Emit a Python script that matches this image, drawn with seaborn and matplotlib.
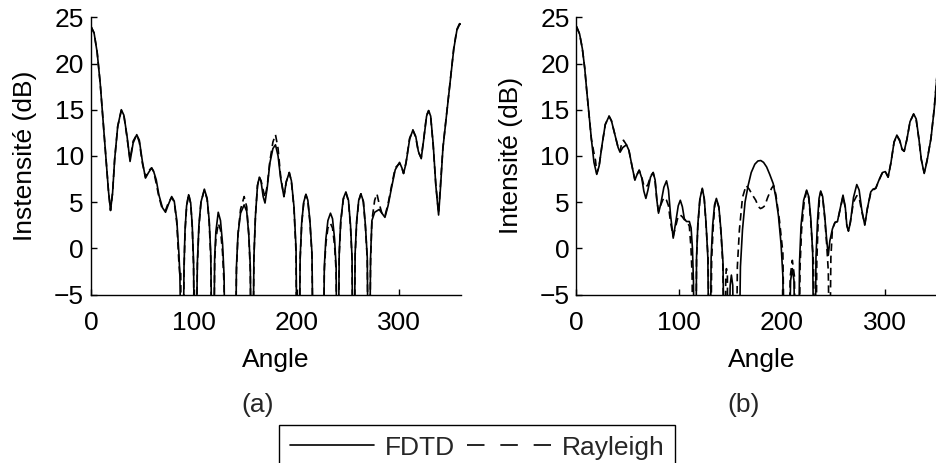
import matplotlib
matplotlib.use('Agg')
import matplotlib.pyplot as plt
from matplotlib.lines import Line2D
import seaborn as sns

# panel (a) - FDTD
a_fdtd_angle = [0, 3, 6, 9, 12, 15, 17, 19, 21, 23, 26, 29.5, 32, 35, 38, 41, 44.5, 47, 50, 53,
                56, 59, 61, 63.5, 66, 69.5, 72.5, 75.5, 78.5, 81, 83.5, 85.5, 86.5, 88,
                89.5, 90.5, 91.5, 93, 95, 97, 98.5, 99.8, 100.8,
                102, 103.5, 105, 107, 110.3, 113, 115, 116.5, 118,
                119.3, 120.3, 121.5, 123.8, 126, 128, 129.5, 130.5,
                140.5, 141.5, 143, 145.5, 149, 151.5, 153.5, 155, 156,
                157.5, 158.5, 160, 162, 163.8, 165.5, 167.5, 169.3, 171.5, 174, 177, 179.5, 182,
                184.5, 187.7, 190, 192.9, 195, 197.5, 199.5, 200.5,
                202.5, 203.5, 205, 207, 209.1, 211, 213, 215, 216.3,
                226, 227, 228.5, 230.5, 233, 235, 237, 238.5, 239.3,
                240.5, 241.5, 243, 245.5, 248, 250.5, 252.5, 254, 254.8,
                256, 257, 258.5, 260.5, 262.6, 265, 267, 268.8, 269.8,
                271, 272, 273.3, 276, 280.4, 283, 286, 289, 292.5, 296, 300.2, 302.5, 304.1,
                306.5, 310, 313.2, 316, 318.5, 321.3, 324, 326.5, 328.5, 330.5, 333, 335.5,
                338.2, 340, 342.4, 345.5, 349.5, 353, 356, 358.5, 360]
a_fdtd_db = [24.0, 23.3, 21.2, 17.8, 13.4, 9.0, 6.2, 4.1, 6.0, 9.6, 13.2, 15.0, 14.4, 12.2, 9.4, 11.4, 12.3, 11.7, 9.4, 7.6,
             8.2, 8.7, 8.3, 7.4, 5.8, 4.4, 3.9, 4.8, 5.6, 5.1, 3.0, -0.5, -3.0, -14,
             -14, -2.0, 2.0, 4.6, 5.8, 4.9, 2.5, -1.5, -14,
             -14, -1.5, 2.5, 5.0, 6.4, 5.4, 3.0, -0.5, -14,
             -14, -1.0, 1.8, 3.9, 3.0, 0.5, -3.0, -14,
             -14, -2.0, 1.5, 3.8, 4.7, 4.0, 1.5, -2.0, -14,
             -14, -1.0, 3.5, 6.8, 7.7, 7.2, 5.6, 4.9, 6.6, 9.2, 10.8, 11.2, 10.0,
             7.6, 5.6, 7.2, 8.2, 7.3, 4.5, 0.0, -14,
             -14, -1.0, 2.8, 5.0, 5.85, 5.2, 3.0, -0.5, -14,
             -14, -2.0, 1.0, 3.0, 3.8, 3.2, 1.0, -2.0, -14,
             -14, -0.5, 3.0, 5.4, 6.1, 5.2, 2.5, -1.0, -14,
             -14, -0.5, 3.0, 5.2, 5.9, 5.1, 2.5, -1.0, -14,
             -14, -1.0, 3.0, 3.9, 4.2, 3.8, 3.35, 4.6, 6.6, 8.5, 9.3, 8.7, 8.1,
             9.2, 11.8, 12.8, 12.1, 10.5, 9.7, 12.0, 14.3, 14.9, 14.3, 11.2, 6.8,
             3.6, 6.5, 10.8, 14.0, 18.0, 21.6, 23.6, 24.2, 24.3]

# panel (a) - Rayleigh
a_ray_angle = [0, 3, 6, 9, 12, 15, 17, 19, 21, 23, 26, 29.5, 32, 35, 38, 41, 44.5, 47, 50, 53,
               56, 59, 61, 63.5, 66, 69.5, 72.5, 75.5, 78.5, 81, 83.5, 85.5, 86.5, 87.3, 88,
               89.5, 90.5, 91.5, 93, 95, 97, 98.5, 99.8, 100.6,
               102.2, 103.5, 105, 107, 110.3, 113, 115, 116.5, 117.8,
               119.3, 120.3, 121.5, 123.8, 126, 128, 129.5, 130.3,
               140.5, 141.5, 143, 145.5, 149, 151.5, 153.5, 155, 155.8,
               157.5, 158.5, 160, 162, 163.8, 165.5, 167.5, 169.3, 171.5, 174, 177, 179.5, 182,
               184.5, 187.7, 190, 192.9, 195, 197.5, 199.5, 200.3,
               202.5, 203.5, 205, 207, 209.1, 211, 213, 215, 216.3,
               226, 227, 228.5, 230.5, 233, 235, 237, 238.5, 239.3,
               240.5, 241.5, 243, 245.5, 248, 250.5, 252.5, 254, 254.8,
               256, 257, 258.5, 260.5, 262.6, 265, 267, 268.8, 269.8,
               271, 272, 273.3, 276, 278.2, 280, 283, 286, 289, 292.5, 296, 300.2, 302.5, 304.1,
               306.5, 310, 313.2, 316, 318.5, 321.3, 324, 326.5, 328.5, 330.5, 333, 335.5,
               338.2, 340, 342.4, 345.5, 349.5, 353, 356, 358.5, 360]
a_ray_db = [24.0, 23.3, 21.2, 17.8, 13.4, 9.0, 6.2, 4.1, 6.0, 9.6, 13.2, 14.9, 14.4, 12.0, 9.6, 11.6, 12.3, 11.5, 9.2, 7.7,
            8.4, 8.7, 8.3, 7.0, 5.6, 4.2, 4.1, 5.0, 5.5, 5.0, 2.7, -1.5, -2.9, -2.6, -14,
            -14, -2.5, 1.8, 4.5, 5.9, 4.8, 2.3, -2.0, -14,
            -14, -1.8, 2.3, 5.0, 6.3, 5.3, 2.8, -1.0, -14,
            -14, -1.5, 1.0, 2.7, 2.0, -0.5, -4.0, -14,
            -14, -2.5, 1.5, 4.2, 5.6, 4.5, 1.5, -2.5, -14,
            -14, -1.0, 3.5, 6.8, 7.7, 7.3, 6.3, 5.5, 6.8, 9.4, 11.5, 12.3, 10.8,
            7.8, 5.6, 7.2, 8.2, 7.2, 4.3, -0.5, -14,
            -14, -1.2, 2.6, 5.0, 5.8, 5.1, 2.8, -0.8, -14,
            -14, -2.5, 0.5, 2.2, 2.7, 2.2, 0.3, -2.5, -14,
            -14, -0.8, 2.8, 5.3, 6.0, 5.1, 2.3, -1.2, -14,
            -14, -0.8, 2.8, 5.1, 5.9, 5.0, 2.3, -1.2, -14,
            -14, -1.5, 3.0, 5.2, 5.9, 5.0, 3.8, 3.5, 4.8, 6.8, 8.7, 9.2, 8.7, 8.1,
            9.3, 11.9, 12.8, 12.0, 10.4, 9.8, 12.1, 14.4, 14.9, 14.2, 11.0, 6.9,
            3.8, 6.8, 10.9, 14.0, 18.1, 21.7, 23.7, 24.3, 24.4]

# panel (b) - FDTD
b_fdtd_angle = [0, 3, 5.7, 8, 10, 12.2, 14.5, 17, 19.7, 22, 25, 28, 31.7, 34, 36, 38.2, 40.5, 42.4, 45, 48.6,
                51, 54, 56.8, 59, 61, 63.5, 65.5, 67.5, 69.5, 72, 74.6, 76.5, 78.2, 79.8, 82, 85, 87.6,
                89.5, 91.5, 94.1, 96.5, 99, 101, 103, 104.9, 107, 109.8, 111.5, 112.8, 113.8, 114.8,
                116, 116.8, 118, 120, 122.4, 124.3, 126, 127.8, 129,
                130, 131, 132.5, 134.3, 136.1, 138.5, 140.5, 142.5, 144,
                148, 149.5, 150.7, 152, 153.3,
                158, 159.5, 161.5, 164, 167, 170, 173.5, 176.5, 179.3, 182, 185, 188, 191.4, 194,
                196.5, 199, 200.8, 201.8,
                206.5, 208.3, 210, 211.6, 213,
                216, 217, 218.5, 221, 223.9, 226, 228, 229.8, 231,
                232, 233, 234.5, 236, 237.6, 239.5, 241.5, 243.5, 245, 246.5, 249, 251.5, 253.9,
                256.5, 259.3, 261.5, 263, 264.6, 266.5, 269.5, 272.7, 275, 277.5, 280.5, 283, 286.3,
                288.5, 291.2, 294, 297.7, 300.5, 303.2, 306, 309, 311.7, 314.5, 316.8, 318.8, 321.5,
                324.5, 328, 330.5, 333, 335.5, 338.3, 341, 344.9, 348, 351.4, 354, 357, 360]
b_fdtd_db = [24.0, 23.2, 21.6, 19.5, 17.0, 14.4, 11.8, 9.3, 8.0, 8.9, 11.3, 13.4, 14.3, 13.8, 12.9, 11.9, 10.9, 10.4, 10.9, 11.2,
             10.6, 8.9, 7.4, 8.0, 8.45, 7.6, 6.2, 5.4, 6.3, 7.7, 8.2, 7.4, 5.2, 3.8, 4.8, 6.6, 7.3,
             6.3, 3.6, 1.1, 2.8, 4.6, 5.2, 4.5, 3.2, 2.9, 2.9, 2.2, 0.0, -3.6, -14,
             -14, -1.0, 2.5, 5.3, 6.5, 5.4, 2.8, -1.0, -14,
             -14, -1.0, 2.5, 4.7, 5.4, 4.5, 2.0, -1.5, -14,
             -14, -4.0, -2.9, -4.0, -14,
             -14, -2.0, 2.0, 5.0, 6.8, 8.2, 9.1, 9.45, 9.5, 9.3, 8.8, 8.0, 7.0, 5.5,
             3.5, 0.5, -3.0, -14,
             -14, -3.5, -2.2, -3.5, -14,
             -14, -1.5, 2.5, 5.2, 6.3, 5.6, 3.2, -0.5, -14,
             -14, -1.0, 3.0, 5.4, 6.2, 5.6, 3.5, 0.8, -0.75, 0.8, 2.1, 2.8, 2.9,
             4.3, 5.75, 4.5, 2.5, 1.85, 2.8, 5.5, 6.9, 6.3, 4.2, 2.5, 4.3, 6.1,
             6.4, 6.5, 7.3, 8.2, 8.3, 7.7, 9.3, 11.5, 12.25, 11.7, 10.7, 10.5, 11.8,
             13.7, 14.55, 14.0, 12.0, 9.6, 8.1, 9.4, 11.9, 15.0, 19.5, 22.0, 23.5, 24.0]

# panel (b) - Rayleigh
b_ray_angle = [0, 3, 5.7, 8, 10, 12.2, 14.5, 17, 18.5, 19.7, 22, 25, 28, 31.7, 34, 36, 38.2, 40.5, 42.4, 44, 45.7, 48.6,
               51, 54, 56.8, 59, 61, 63.5, 65.5, 67.5, 69.5, 72, 74.6, 76.5, 78.2, 79.8, 82, 85, 87.6,
               89.5, 91.5, 94.1, 96.5, 99, 101, 103, 104.9, 107, 109.8, 111.4, 112.5, 113.3,
               116, 116.8, 118, 120, 122.4, 124.3, 126, 128, 129.5,
               130.5, 131.5, 133, 134.5, 136.1, 138.5, 140.5, 142.5, 143.5,
               144.5, 145.2, 145.9, 146.8, 147.5,
               155.5, 156.5, 158.5, 161.5, 165, 168, 171, 174.4, 177, 179, 181, 183.2, 186, 189.8,
               191.8, 194, 197.5, 200.8, 202.5,
               206, 208, 210, 212, 213.5,
               216.5, 217.5, 219, 221.5, 223.9, 226, 228, 230.5, 232,
               232.8, 233.8, 235, 236.3, 237.6, 239.5, 241.5, 243.5, 245, 246.3, 247.5, 249, 251.5, 253.9,
               256.5, 259.3, 261.5, 263, 264.6, 266.5, 269.5, 272.7, 275, 277.5, 280.5, 283, 286.3,
               288.5, 291.2, 294, 297.7, 300.5, 303.2, 306, 309, 311.7, 314.5, 316.8, 318.8, 321.5,
               324.5, 328, 330.5, 333, 335.5, 338.3, 341, 344.9, 348, 351.4, 354, 357, 360]
b_ray_db = [24.0, 23.2, 21.6, 19.5, 17.0, 14.4, 11.8, 10.3, 9.5, 8.1, 8.9, 11.3, 13.4, 14.3, 13.8, 12.9, 11.9, 10.9, 10.5, 11.4, 11.7, 11.2,
            10.6, 8.9, 7.4, 8.0, 8.45, 7.7, 6.8, 6.6, 6.9, 7.8, 8.2, 7.2, 5.2, 4.0, 4.7, 5.5, 5.2,
            4.6, 2.8, 1.3, 2.4, 3.5, 3.6, 3.4, 3.1, 3.0, 2.4, 0.0, -3.0, -14,
            -14, -1.2, 2.3, 5.2, 6.4, 5.3, 2.6, -1.0, -14,
            -14, -1.2, 2.3, 4.6, 5.3, 4.4, 1.8, -2.0, -14,
            -14, -3.0, -2.2, -3.0, -14,
            -14, -2.0, 2.0, 5.5, 6.8, 6.4, 5.8, 5.2, 4.5, 4.3, 4.4, 4.6, 5.5, 6.5,
            6.8, 5.8, 3.0, -0.5, -14,
            -14, -3.0, -1.3, -3.0, -14,
            -14, -2.0, 2.0, 5.0, 6.2, 5.4, 2.8, -1.5, -14,
            -14, -1.5, 2.5, 5.2, 6.1, 5.5, 3.3, 0.3, -2.5, -14, -1.0, 2.1, 2.8, 2.9,
            4.2, 5.6, 4.4, 2.5, 1.9, 2.9, 5.0, 5.7, 5.5, 4.0, 2.6, 4.3, 6.0,
            6.3, 6.5, 7.3, 8.2, 8.3, 7.7, 9.3, 11.5, 12.2, 11.6, 10.7, 10.5, 11.8,
            13.7, 14.5, 13.9, 11.9, 9.6, 8.2, 9.5, 11.9, 15.1, 19.6, 22.1, 23.6, 24.1]

x_ticks = [0, 100, 200, 300]
y_ticks = [-5, 0, 5, 10, 15, 20, 25]
y_labels = ['Instensité (dB)', 'Intensité (dB)']
panel_tags = ['(a)', '(b)']
legend_labels = ['FDTD', 'Rayleigh']

sns.set_theme(style='ticks')
plt.rcParams['font.family'] = ['Liberation Sans', 'DejaVu Sans']
plt.rcParams['axes.unicode_minus'] = True

W, H = 937, 463
fig = plt.figure(figsize=(W / 100, H / 100), dpi=100)

dash_pat = (0, (4.5, 2.8))
panels = [(a_fdtd_angle, a_fdtd_db, a_ray_angle, a_ray_db, 91),
          (b_fdtd_angle, b_fdtd_db, b_ray_angle, b_ray_db, 576.5)]

for i, (fx, fy, rx, ry, left_px) in enumerate(panels):
    ax = fig.add_axes([left_px / W, 1 - 294.5 / H, 370 / W, 277.2 / H])
    ax.set_facecolor('white')
    sns.lineplot(x=fx, y=fy, ax=ax, color='black', lw=1.2, estimator=None)
    sns.lineplot(x=rx, y=ry, ax=ax, color='black', lw=1.2, estimator=None, linestyle=dash_pat)
    ax.set_xlim(0, 360)
    ax.set_ylim(-5, 25)
    ax.set_xticks(x_ticks)
    ax.set_yticks(y_ticks)
    ax.tick_params(axis='both', direction='in', length=4, width=1, labelsize=19, color='black',
                   labelcolor='black')
    ax.tick_params(axis='x', pad=12)
    ax.tick_params(axis='y', pad=5)
    sns.despine(ax=ax)
    for s in ['left', 'bottom']:
        ax.spines[s].set_color('black')
        ax.spines[s].set_linewidth(1.0)
    ax.set_xlabel('Angle', fontsize=19, labelpad=9, color='black')
    ax.set_ylabel(y_labels[i], fontsize=19, labelpad=12, color='black')
    fig.text((left_px + 167) / W, 1 - 405 / H, panel_tags[i], fontsize=19, ha='center', va='center')

# legend proxies (the dashed one drawn with longer dashes, as in the original)
handles = [Line2D([], [], color='black', lw=1.2),
           Line2D([], [], color='black', lw=1.2, linestyle=(0, (10.5, 9.5)))]
leg = fig.legend(handles, legend_labels, loc='upper left', bbox_to_anchor=(279 / W, 1 - 425 / H),
                 ncol=2, frameon=True, fancybox=False, edgecolor='black', framealpha=1,
                 fontsize=19, handlelength=3.2, handletextpad=0.4, columnspacing=0.45,
                 borderpad=0.4, borderaxespad=0)
leg.get_frame().set_linewidth(1.0)

fig.savefig('out.png', dpi=100, facecolor='white')
